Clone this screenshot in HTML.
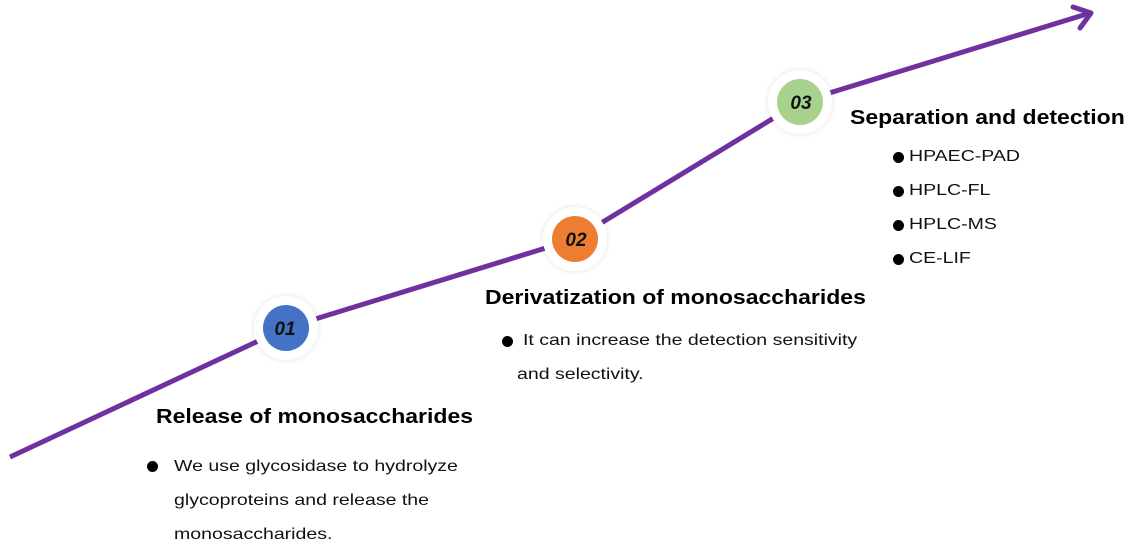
<!DOCTYPE html>
<html><head><style>
body{margin:0;width:1133px;height:554px;background:#fff;font-family:"Liberation Sans",sans-serif;position:relative;overflow:hidden}
.t{position:absolute;font-weight:bold;font-size:20px;color:#000;white-space:nowrap;transform:scaleX(1.15);transform-origin:left}
.p{position:absolute;font-size:16px;color:#111;line-height:34px;white-space:nowrap;transform:scaleX(1.22);transform-origin:left}
.d{position:absolute;width:11px;height:11px;border-radius:50%;background:#000}
</style></head><body>
<svg width="1133" height="554" style="position:absolute;left:0;top:0">
<defs><filter id="s" x="-50%" y="-50%" width="200%" height="200%"><feDropShadow dx="0" dy="0" stdDeviation="3" flood-color="#000" flood-opacity="0.12"/></filter></defs>
<polyline points="10,457 286,328 575,239 800,102 1090,13" fill="none" stroke="#7030a0" stroke-width="5" stroke-linejoin="round"/>
<polyline points="1073,7 1091,13 1080,28" fill="none" stroke="#7030a0" stroke-width="5" stroke-linecap="round" stroke-linejoin="round"/>
<g filter="url(#s)"><circle cx="286" cy="328" r="32" fill="#fff"/><circle cx="575" cy="239" r="32" fill="#fff"/><circle cx="800" cy="102" r="32" fill="#fff"/></g>
<circle cx="286" cy="328" r="23" fill="#4472c4"/><circle cx="575" cy="239" r="23" fill="#ed7d31"/><circle cx="800" cy="102" r="23" fill="#a9d18e"/>
<g font-family="Liberation Sans" font-weight="bold" font-style="italic" font-size="19" text-anchor="middle" fill="#111">
<text x="285" y="335">01</text><text x="576" y="246">02</text><text x="801" y="109">03</text></g>
</svg>
<div class="t" style="left:156px;top:406px">Release of monosaccharides</div>
<div class="d" style="left:147px;top:461px"></div>
<div class="p" style="left:174px;top:450px">We use glycosidase to hydrolyze</div>
<div class="p" style="left:174px;top:484px">glycoproteins and release the</div>
<div class="p" style="left:174px;top:518px">monosaccharides.</div>
<div class="t" style="left:485px;top:287px">Derivatization of monosaccharides</div>
<div class="d" style="left:502px;top:336px"></div>
<div class="p" style="left:523px;top:324px">It can increase the detection sensitivity</div>
<div class="p" style="left:517px;top:358px">and selectivity.</div>
<div class="t" style="left:850px;top:107px">Separation and detection</div>
<div class="d" style="left:893px;top:152px"></div><div class="p" style="left:909px;top:140px">HPAEC-PAD</div>
<div class="d" style="left:893px;top:186px"></div><div class="p" style="left:909px;top:174px">HPLC-FL</div>
<div class="d" style="left:893px;top:220px"></div><div class="p" style="left:909px;top:208px">HPLC-MS</div>
<div class="d" style="left:893px;top:254px"></div><div class="p" style="left:909px;top:242px">CE-LIF</div>
</body></html>
